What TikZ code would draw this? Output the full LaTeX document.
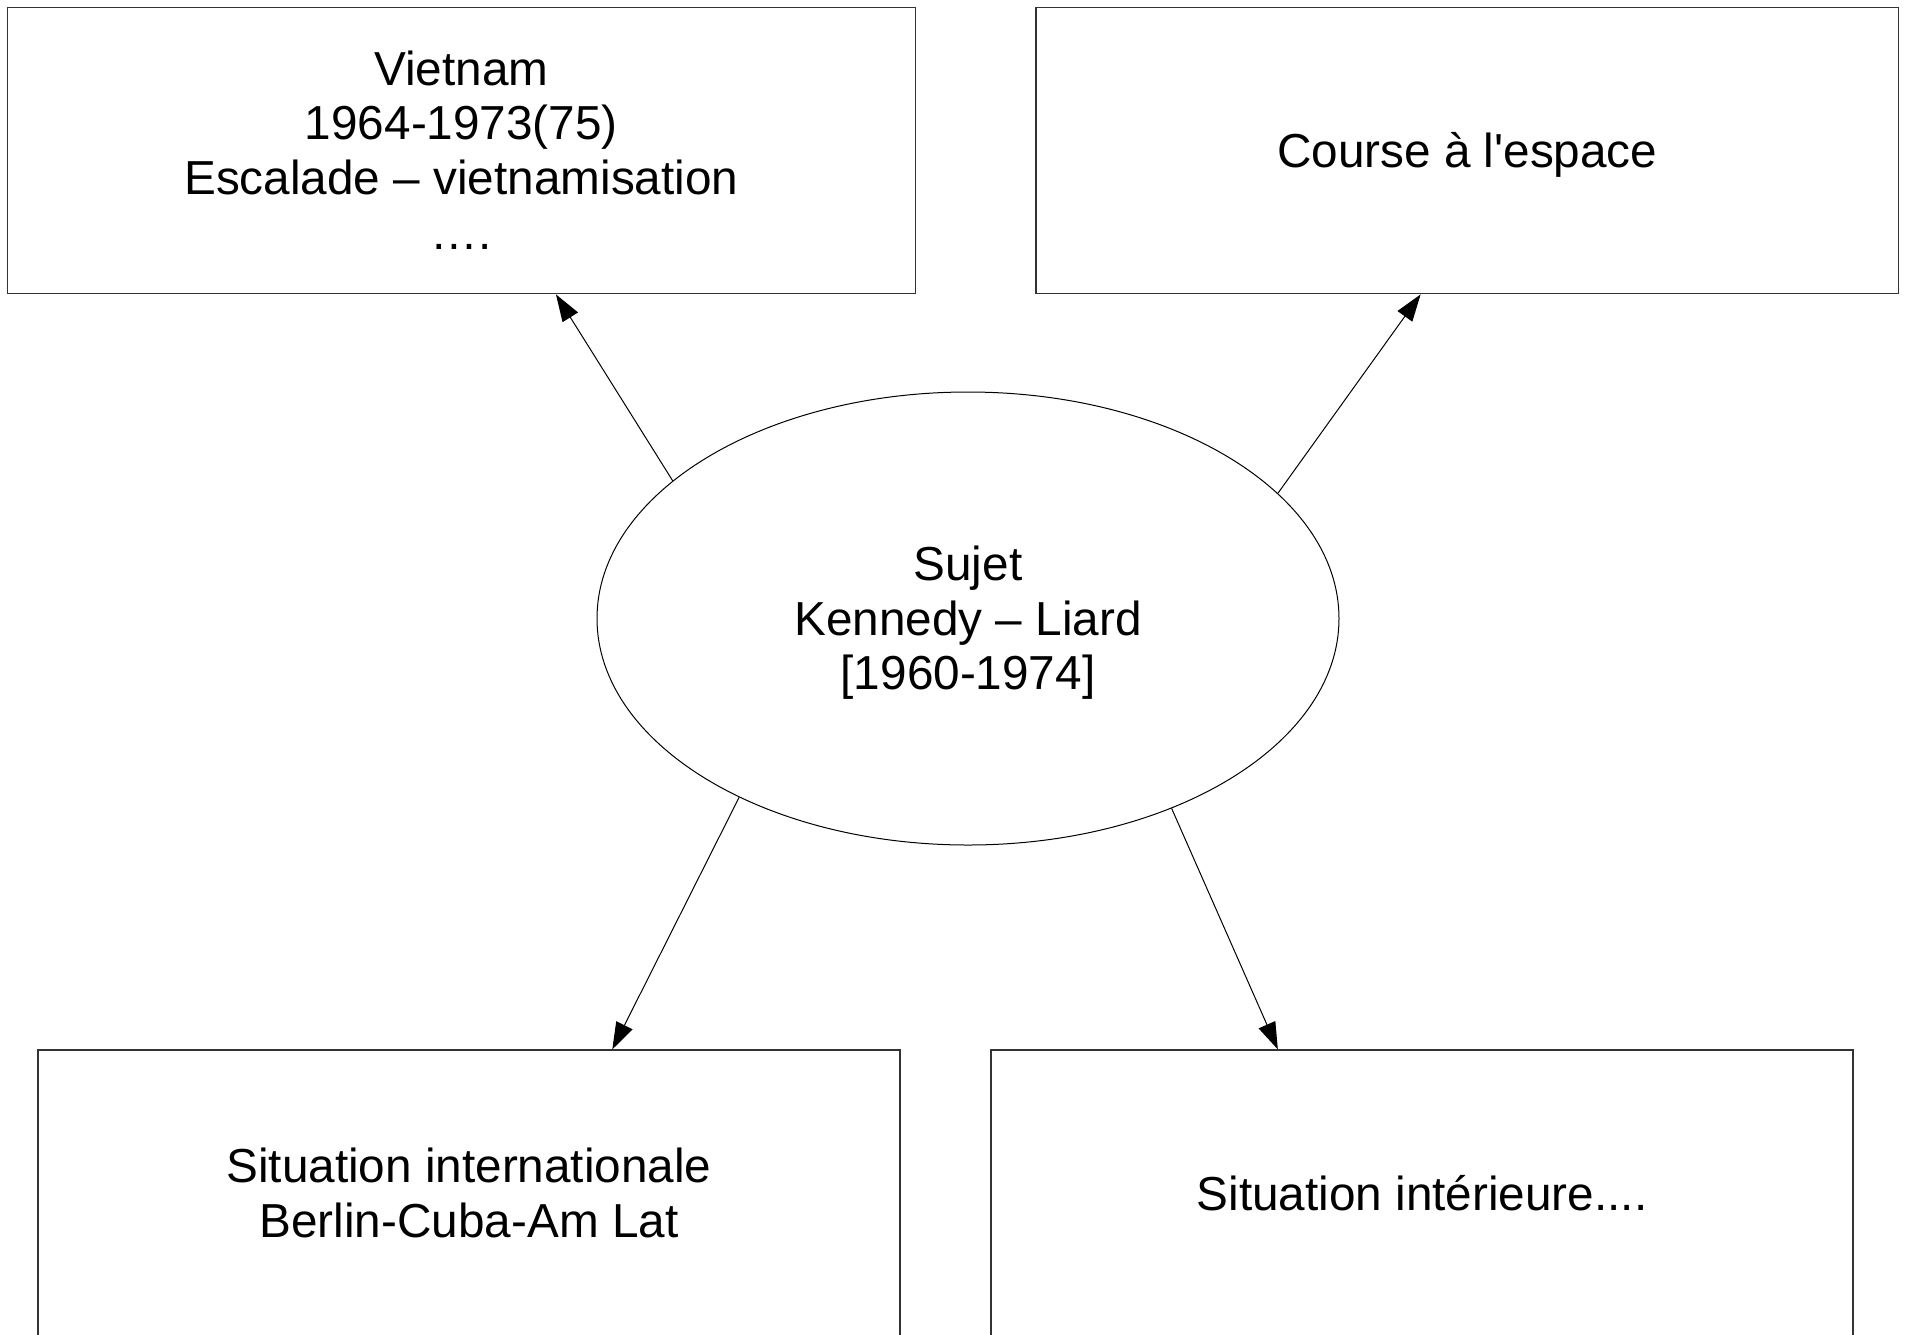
\documentclass[tikz,border=0pt]{standalone}
\usepackage{fontspec}
\setmainfont{Liberation Sans}[Ligatures=TeXOff]
\usetikzlibrary{shapes.geometric,arrows.meta,calc}
\newcommand\lstr{\rule[-5.35pt]{0pt}{27.35pt}}
\tikzset{
  box/.style={draw=black!80, line width=0.6pt, rectangle, inner sep=0pt, align=center,
    font=\fontsize{23.85pt}{27.35pt}\selectfont},
  oval/.style={draw=black, line width=0.5pt, ellipse, inner sep=0pt, align=center,
    minimum width=371pt, minimum height=226.5pt,
    font=\fontsize{23.85pt}{27.35pt}\selectfont},
  conn/.style={draw=black, line width=0.5pt, -{Triangle[length=13.5pt,width=9pt]}}
}
\begin{document}
\begin{tikzpicture}[x=0.5pt,y=-0.5pt]
\useasboundingbox[fill=white] (0,0) rectangle (1905,1334);
\node[box, minimum width=454pt, minimum height=143.3pt] (vn) at (461.4,150.5)
  {\lstr Vietnam\\\lstr 1964-1973(75)\\\lstr Escalade – vietnamisation\\\lstr ….};
\node[box, minimum width=431.25pt, minimum height=143.3pt] (course) at (1467.25,150.5)
  {\lstr Course à l'espace};
\node[oval] (sujet) at (968,618.5) {\lstr Sujet\\\lstr Kennedy – Liard\\\lstr {[1960-1974]}};
\node[box, minimum width=431pt, minimum height=143.5pt] (intl) at (469,1193.5)
  {\lstr Situation internationale\\\lstr Berlin-Cuba-Am Lat};
\node[box, minimum width=431pt, minimum height=143.5pt] (inter) at (1422,1193.5)
  {\lstr Situation intérieure....};
\draw[conn] (sujet.155) -- ($(vn.south west)!0.604!(vn.south east)$);
\draw[conn] (sujet.22) -- ($(course.south west)!0.446!(course.south east)$);
\draw[conn] (sujet.218) -- ($(intl.north west)!0.666!(intl.north east)$);
\draw[conn] (sujet.-43) -- ($(inter.north west)!0.333!(inter.north east)$);
\end{tikzpicture}
\end{document}
